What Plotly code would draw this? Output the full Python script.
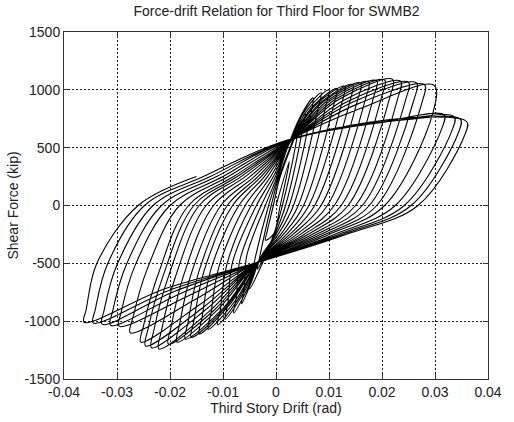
import plotly.graph_objects as go

# Cyclic test record for the third floor, one entry per loading cycle.
# Positive excursion: peak, post-peak drop, force-zero crossing on unloading,
# unloading point at -250 kip.
pos_peak_drift = [0.0025, 0.0040, 0.0055, 0.0070, 0.0085, 0.0100, 0.0115, 0.0130, 0.0145, 0.0160, 0.0175, 0.0190,
                  0.0205, 0.0220, 0.0235, 0.0250, 0.0265, 0.0280, 0.0298, 0.0317, 0.0336, 0.0348, 0.0360]
pos_peak_force = [380, 620, 800, 930, 975, 1000, 1010, 1030, 1045, 1060, 1070, 1080,
                  1085, 1090, 1075, 1065, 1060, 1045, 1040, 784, 767, 745, 724]
pos_drop_drift = [0.0022, 0.0037, 0.0051, 0.0066, 0.0080, 0.0095, 0.0110, 0.0125, 0.0140, 0.0155, 0.0170, 0.0185,
                  0.0200, 0.0215, 0.0230, 0.0245, 0.0260, 0.0276, 0.0296, 0.0314, 0.0333, 0.0345, 0.0357]
pos_drop_force = [300, 520, 680, 800, 850, 880, 890, 900, 910, 930, 940, 950,
                  950, 940, 930, 920, 910, 900, 800, 680, 660, 640, 620]
pos_zero_drift = [0.0008, 0.0012, 0.0018, 0.0025, 0.0033, 0.0042, 0.0052, 0.0062, 0.0073, 0.0085, 0.0097, 0.0110,
                  0.0123, 0.0136, 0.0150, 0.0163, 0.0176, 0.0190, 0.0205, 0.0225, 0.0242, 0.0255, 0.0268]
pos_unload_drift = [-0.0005, -0.0004, -0.0002, 0.0000, 0.0004, 0.0009, 0.0014, 0.0020, 0.0026, 0.0032, 0.0039, 0.0046,
                    0.0053, 0.0060, 0.0068, 0.0076, 0.0084, 0.0092, 0.0100, 0.0110, 0.0118, 0.0125, 0.0132]
unload_force = [-250] * 23

# Loading branch toward the positive peak (None where the branch is straight)
up_pinch_drift = [None, None, None, 0.0020, 0.0020, 0.0020, 0.0020, 0.0020, 0.0020, 0.0020, 0.0021, 0.0021,
                  0.0021, 0.0021, 0.0022, 0.0022, 0.0022, 0.0022, 0.0023, 0.0023, 0.0023, 0.0023, 0.0023]
up_pinch_force = [None, None, None, 480, 480, 485, 490, 495, 500, 505, 515, 520,
                  525, 530, 535, 540, 545, 550, 560, 560, 565, 565, 569]
pos_load_drift = [None, None, None, 0.0045, 0.0052, 0.0060, 0.0068, 0.0075, 0.0083, 0.0090, 0.0098, 0.0105,
                  0.0113, 0.0120, 0.0128, 0.0135, 0.0143, 0.0150, 0.0160, 0.0200, 0.0220, 0.0240, 0.0260]
pos_load_force = [None, None, None, 760, 800, 830, 850, 870, 885, 900, 910, 915,
                  920, 920, 910, 900, 890, 870, 840, 720, 730, 740, 760]

# Negative excursion: peak, post-peak drop, steep initial reload, force-zero
# crossing on reloading, reloading point at +250 kip.
neg_peak_drift = [-0.0020, -0.0035, -0.0050, -0.0065, -0.0080, -0.0096, -0.0110, -0.0128, -0.0145, -0.0160, -0.0171,
                  -0.0187, -0.0203, -0.0221, -0.0235, -0.0246, -0.0255, -0.0275, -0.0296, -0.0312, -0.0328, -0.0345,
                  -0.0362]
neg_peak_force = [-300, -550, -720, -850, -930, -983, -1030, -1069, -1110, -1140, -1155, -1180,
                  -1198, -1241, -1230, -1215, -1181, -1100, -1043, -1035, -1026, -1015, -1009]
neg_drop_drift = [-0.0017, -0.0031, -0.0046, -0.0060, -0.0075, -0.0091, -0.0105, -0.0123, -0.0140, -0.0155, -0.0166,
                  -0.0182, -0.0198, -0.0216, -0.0230, -0.0241, -0.0250, -0.0270, -0.0292, -0.0308, -0.0324, -0.0341,
                  -0.0358]
neg_drop_force = [-230, -450, -600, -720, -800, -850, -900, -940, -980, -1000, -1010, -1030,
                  -1050, -1080, -1070, -1060, -1040, -970, -920, -910, -900, -900, -897]
neg_rise_drift = [None, None, None, -0.0055, -0.0068, -0.0082, -0.0093, -0.0108, -0.0123, -0.0136, -0.0146, -0.0160,
                  -0.0174, -0.0190, -0.0203, -0.0213, -0.0222, -0.0243, -0.0266, -0.0283, -0.0300, -0.0318, -0.0338]
neg_rise_force = [None, None, None, -430, -470, -490, -515, -535, -555, -570, -578, -590,
                  -600, -620, -615, -608, -590, -550, -520, -518, -513, -508, -500]
neg_zero_drift = [-0.0005, -0.0009, -0.0014, -0.0020, -0.0028, -0.0037, -0.0047, -0.0058, -0.0070, -0.0082, -0.0092,
                  -0.0104, -0.0118, -0.0132, -0.0145, -0.0155, -0.0165, -0.0182, -0.0200, -0.0216, -0.0232, -0.0248,
                  -0.0260]
neg_reload_drift = [0.0008, 0.0006, 0.0004, 0.0002, -0.0001, -0.0005, -0.0010, -0.0016, -0.0022, -0.0028, -0.0034,
                    -0.0041, -0.0049, -0.0058, -0.0066, -0.0073, -0.0080, -0.0090, -0.0100, -0.0112, -0.0124,
                    -0.0137, -0.0150]
reload_force = [250] * 23

# Loading branch toward the negative peak
low_pinch_drift = [None, None, None, -0.0028, -0.0028, -0.0028, -0.0029, -0.0029, -0.0030, -0.0030, -0.0030, -0.0031,
                   -0.0031, -0.0032, -0.0032, -0.0033, -0.0033, -0.0034, -0.0034, -0.0034, -0.0034, -0.0034, -0.0034]
low_pinch_force = [None, None, None, -440, -445, -450, -455, -460, -465, -470, -470, -475,
                   -475, -480, -480, -485, -485, -488, -490, -490, -491, -491, -491]
neg_load_drift = [None, None, None, -0.0048, -0.0055, -0.0063, -0.0070, -0.0078, -0.0088, -0.0095, -0.0100, -0.0110,
                  -0.0118, -0.0127, -0.0135, -0.0140, -0.0145, -0.0155, -0.0165, -0.0180, -0.0190, -0.0200, -0.0210]
neg_load_force = [None, None, None, -680, -730, -770, -800, -830, -860, -880, -890, -900,
                  -910, -920, -910, -890, -860, -820, -780, -760, -740, -730, -720]

x_ticks = [-0.04, -0.03, -0.02, -0.01, 0, 0.01, 0.02, 0.03, 0.04]
x_tick_text = ["-0.04", "-0.03", "-0.02", "-0.01", "0", "0.01", "0.02", "0.03", "0.04"]
y_ticks = [-1500, -1000, -500, 0, 500, 1000, 1500]
y_tick_text = ["-1500", "-1000", "-500", "0", "500", "1000", "1500"]

# Assemble the load path cycle by cycle
drift, force = [0.0], [0.0]


def add(d, f):
    if d is not None and f is not None:
        drift.append(d)
        force.append(f)


for k in range(len(pos_peak_drift)):
    add(up_pinch_drift[k], up_pinch_force[k])
    add(pos_load_drift[k], pos_load_force[k])
    add(pos_peak_drift[k], pos_peak_force[k])
    add(pos_drop_drift[k], pos_drop_force[k])
    add(pos_zero_drift[k], 0)
    add(pos_unload_drift[k], unload_force[k])
    add(low_pinch_drift[k], low_pinch_force[k])
    add(neg_load_drift[k], neg_load_force[k])
    add(neg_peak_drift[k], neg_peak_force[k])
    add(neg_drop_drift[k], neg_drop_force[k])
    add(neg_rise_drift[k], neg_rise_force[k])
    add(neg_zero_drift[k], 0)
    add(neg_reload_drift[k], reload_force[k])

fig = go.Figure()
fig.add_trace(go.Scatter(
    x=drift, y=force, mode="lines",
    line=dict(color="black", width=1.1, shape="spline", smoothing=1.0),
    hoverinfo="skip", showlegend=False,
))

font_family = "Liberation Sans, Arial, sans-serif"
text_color = "#222222"
axis_common = dict(
    showline=True, linecolor="#333333", linewidth=1, mirror="ticks",
    ticks="inside", ticklen=5, tickcolor="#333333",
    showgrid=True, gridcolor="#222222", gridwidth=1, griddash="2px,2px",
    zeroline=False, tickfont=dict(family=font_family, size=14, color=text_color),
)

fig.update_layout(
    width=514, height=422,
    margin=dict(l=64, r=23, t=32, b=42),
    paper_bgcolor="white", plot_bgcolor="white",
    title=dict(text="Force-drift Relation for Third Floor for SWMB2",
               x=0.538, xanchor="center", y=0.985, yanchor="top",
               font=dict(family=font_family, size=14, color=text_color)),
    xaxis=dict(range=[-0.04, 0.04], tickvals=x_ticks, ticktext=x_tick_text,
               title=dict(text="Third Story Drift (rad)", standoff=0,
                          font=dict(family=font_family, size=14, color=text_color)),
               **axis_common),
    yaxis=dict(range=[-1500, 1500], tickvals=y_ticks, ticktext=y_tick_text,
               title=dict(text="Shear Force (kip)", standoff=2,
                          font=dict(family=font_family, size=14, color=text_color)),
               **axis_common),
)

fig.write_html("out.html")
